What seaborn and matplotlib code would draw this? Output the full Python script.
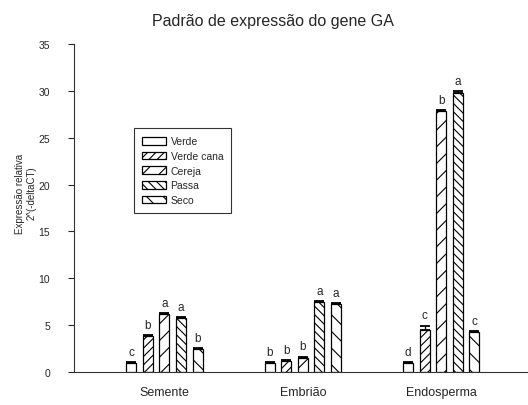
import numpy as np
import pandas as pd
import matplotlib
matplotlib.use("Agg")
import matplotlib.pyplot as plt
from matplotlib.container import BarContainer
import seaborn as sns

tissues = ["Semente", "Embrião", "Endosperma"]
stages = ["Verde", "Verde cana", "Cereja", "Passa", "Seco"]
# values per stage, across tissues
verde      = [1.0, 0.97, 1.0]
verde_cana = [3.85, 1.22, 4.55]
cereja     = [6.2, 1.55, 27.85]
passa      = [5.78, 7.45, 29.8]
seco       = [2.48, 7.27, 4.32]
# upper error values
err_verde      = [0.08, 0.08, 0.12]
err_verde_cana = [0.12, 0.1, 0.42]
err_cereja     = [0.1, 0.12, 0.12]
err_passa      = [0.1, 0.1, 0.12]
err_seco       = [0.08, 0.1, 0.1]
# significance letters
let_verde      = ["c", "b", "d"]
let_verde_cana = ["b", "b", "c"]
let_cereja     = ["a", "b", "b"]
let_passa      = ["a", "a", "a"]
let_seco       = ["b", "a", "c"]

hatches = ["", "////", "//", "\\\\\\\\", "\\\\"]

values = [verde, verde_cana, cereja, passa, seco]
errs = [err_verde, err_verde_cana, err_cereja, err_passa, err_seco]
letters = [let_verde, let_verde_cana, let_cereja, let_passa, let_seco]

rows = []
for s, vals in zip(stages, values):
    for t, v in zip(tissues, vals):
        rows.append({"Tecido": t, "Estágio": s, "valor": v})
df = pd.DataFrame(rows)

sns.set_style("ticks")
plt.rcParams["font.family"] = ["Liberation Sans", "DejaVu Sans"]
plt.rcParams["hatch.linewidth"] = 0.8

fig = plt.figure(figsize=(5.28, 4.06), dpi=100)
ax = fig.add_axes([0.1402, 0.0805, 0.858, 0.8094])

sns.barplot(data=df, x="Tecido", y="valor", hue="Estágio", order=tissues,
            hue_order=stages, palette=["white"] * 5, width=0.6, gap=0.4,
            errorbar=None, edgecolor="black", linewidth=0.9, legend=False,
            saturation=1, ax=ax)

bar_conts = [c for c in ax.containers if isinstance(c, BarContainer)]
for i, cont in enumerate(bar_conts):
    xs, tops = [], []
    for bar in cont.patches:
        bar.set_hatch(hatches[i])
        bar.set_edgecolor("black")
        bar.set_facecolor("white")
        xs.append(bar.get_x() + bar.get_width() / 2)
        tops.append(bar.get_height())
    e = np.array(errs[i])
    ax.errorbar(xs, tops, yerr=[np.zeros_like(e), e], fmt="none",
                ecolor="black", elinewidth=0.9, capsize=3.6, capthick=1.3)
    for xc, top, ee, lt in zip(xs, tops, e, letters[i]):
        ax.annotate(lt, (xc, top + ee), xytext=(0, 3), textcoords="offset points",
                    ha="center", va="bottom", fontsize=8.5)

handles = [cont.patches[0] for cont in bar_conts]
leg = ax.legend(handles, stages, loc="upper left", bbox_to_anchor=(0.1325, 0.7435),
                borderaxespad=0, fontsize=7.5, frameon=True, fancybox=False,
                handlelength=2.3, handleheight=0.75, handletextpad=0.4,
                labelspacing=0.45, borderpad=0.8)
leg.get_frame().set_edgecolor("black")
leg.get_frame().set_linewidth(0.8)

ax.set_xlim(-0.652, 2.62)
ax.set_ylim(0, 35)
ax.set_yticks([0, 5, 10, 15, 20, 25, 30, 35])
ax.set_xlabel("")
ax.set_ylabel("")
ax.tick_params(axis="x", length=0, pad=10, labelsize=9)
ax.tick_params(axis="y", length=4.3, width=0.8, pad=13, labelsize=7.5, direction="out")
for sp in ["top", "right"]:
    ax.spines[sp].set_visible(False)
for sp in ["left", "bottom"]:
    ax.spines[sp].set_color("#333333")
    ax.spines[sp].set_linewidth(0.8)

fig.text(273 / 528, 1 - 26 / 406, "Padrão de expressão do gene GA", ha="center",
         va="baseline", fontsize=11.5)
fig.text(25.5 / 528, 1 - 193.5 / 406, "Expressão relativa\n2^(-deltaCT)", rotation=90,
         ha="center", va="center", multialignment="center", fontsize=7, linespacing=1.2)

fig.savefig("out.png", dpi=100)
